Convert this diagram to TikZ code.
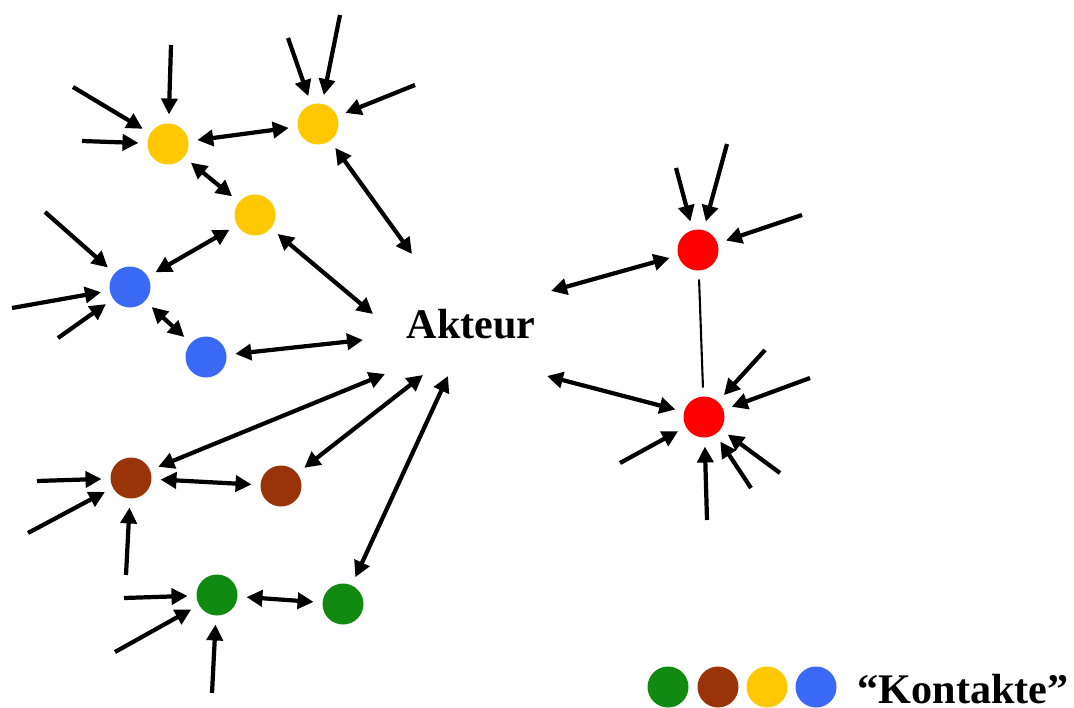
\documentclass[tikz,border=0pt]{standalone}
\usepackage{fontspec}
\setmainfont{Liberation Serif}
\usetikzlibrary{arrows.meta}
\definecolor{kGelb}{HTML}{FFC800}
\definecolor{kBlau}{HTML}{3A6AF5}
\definecolor{kBraun}{HTML}{993308}
\definecolor{kGruen}{HTML}{108A10}
\definecolor{kRot}{HTML}{FF0000}
\begin{document}
\begin{tikzpicture}[x=0.1mm,y=-0.1mm]
\tikzset{
    netDot/.style={circle,minimum size=4.1mm,inner sep=0pt,outer sep=0.9mm},
    netArrow/.style={line width=1.2pt,-{Triangle[length=1.6mm,width=1.6mm]}},
    netBiArrow/.style={line width=1.2pt,{Triangle[length=1.6mm,width=1.6mm]}-{Triangle[length=1.6mm,width=1.6mm]}},
    netLabel/.style={font=\bfseries\fontsize{12}{14}\selectfont,inner sep=0pt},
}
\useasboundingbox (0,0) rectangle (1074,707);

% Akteur and its contacts
\node[netLabel] (akteur) at (471,324) {Akteur};
\node[netDot,fill=kGelb] (ye1) at (168,144) {};
\node[netDot,fill=kGelb] (ye2) at (318,124) {};
\node[netDot,fill=kGelb] (ye3) at (255,215) {};
\node[netDot,fill=kBlau] (bl1) at (130,287) {};
\node[netDot,fill=kBlau] (bl2) at (206,357) {};
\node[netDot,fill=kBraun] (br1) at (131,478) {};
\node[netDot,fill=kBraun] (br2) at (281,486) {};
\node[netDot,fill=kGruen] (gr1) at (217,595) {};
\node[netDot,fill=kGruen] (gr2) at (343,604) {};
\node[netDot,fill=kRot] (rd1) at (698,250) {};
\node[netDot,fill=kRot] (rd2) at (704,417) {};

% loose ends of the incoming arrows
\coordinate (ye1a) at (73,87);
\coordinate (ye1b) at (171,45);
\coordinate (ye1c) at (82,141);
\coordinate (ye2a) at (288,38);
\coordinate (ye2b) at (340,15);
\coordinate (ye2c) at (415,85);
\coordinate (bl1a) at (45,212);
\coordinate (bl1b) at (12,308);
\coordinate (bl1c) at (58,338);
\coordinate (br1a) at (37,481);
\coordinate (br1b) at (28,533);
\coordinate (br1c) at (126,575);
\coordinate (gr1a) at (124,598);
\coordinate (gr1b) at (115,652);
\coordinate (gr1c) at (212,693);
\coordinate (rd1a) at (676,168);
\coordinate (rd1b) at (727,144);
\coordinate (rd1c) at (802,215);
\coordinate (rd2a) at (765,350);
\coordinate (rd2b) at (810,378);
\coordinate (rd2c) at (780,473);
\coordinate (rd2d) at (751,488);
\coordinate (rd2e) at (707,520);
\coordinate (rd2f) at (620,463);

\draw[netArrow] (ye1a) -- (ye1);
\draw[netArrow] (ye1b) -- (ye1);
\draw[netArrow] (ye1c) -- (ye1);
\draw[netArrow] (ye2a) -- (ye2);
\draw[netArrow] (ye2b) -- (ye2);
\draw[netArrow] (ye2c) -- (ye2);
\draw[netArrow] (bl1a) -- (bl1);
\draw[netArrow] (bl1b) -- (bl1);
\draw[netArrow] (bl1c) -- (bl1);
\draw[netArrow] (br1a) -- (br1);
\draw[netArrow] (br1b) -- (br1);
\draw[netArrow] (br1c) -- (br1);
\draw[netArrow] (gr1a) -- (gr1);
\draw[netArrow] (gr1b) -- (gr1);
\draw[netArrow] (gr1c) -- (gr1);
\draw[netArrow] (rd1a) -- (rd1);
\draw[netArrow] (rd1b) -- (rd1);
\draw[netArrow] (rd1c) -- (rd1);
\draw[netArrow] (rd2a) -- (rd2);
\draw[netArrow] (rd2b) -- (rd2);
\draw[netArrow] (rd2c) -- (rd2);
\draw[netArrow] (rd2d) -- (rd2);
\draw[netArrow] (rd2e) -- (rd2);
\draw[netArrow] (rd2f) -- (rd2);

% contacts among each other
\draw[netBiArrow] (ye1) -- (ye2);
\draw[netBiArrow] (ye1) -- (ye3);
\draw[netBiArrow] (ye3) -- (bl1);
\draw[netBiArrow] (bl1) -- (bl2);
\draw[netBiArrow] (br1) -- (br2);
\draw[netBiArrow] (gr1) -- (gr2);
\draw[line width=0.6pt] (rd1) -- (rd2);

% contacts with the Akteur
\draw[netBiArrow] (ye2) -- ([shift={(-59,-70)}]akteur.center);
\draw[netBiArrow] (ye3) -- ([shift={(-98,-10)}]akteur.center);
\draw[netBiArrow] (bl2) -- ([shift={(-108,16)}]akteur.center);
\draw[netBiArrow] (br1) -- ([shift={(-86,50)}]akteur.center);
\draw[netBiArrow] (br2) -- ([shift={(-48,51)}]akteur.center);
\draw[netBiArrow] (gr2) -- ([shift={(-23,52)}]akteur.center);
\draw[netBiArrow] (rd1) -- ([shift={(80,-33)}]akteur.center);
\draw[netBiArrow] (rd2) -- ([shift={(76,52)}]akteur.center);

% legend
\node[netDot,fill=kGruen] (lgGr) at (668,687) {};
\node[netDot,fill=kBraun] (lgBr) at (718,687) {};
\node[netDot,fill=kGelb] (lgYe) at (767,687) {};
\node[netDot,fill=kBlau] (lgBl) at (816,687) {};
\node[netLabel,anchor=base west] (lgText) at (857,703) {``Kontakte''};
\end{tikzpicture}
\end{document}
